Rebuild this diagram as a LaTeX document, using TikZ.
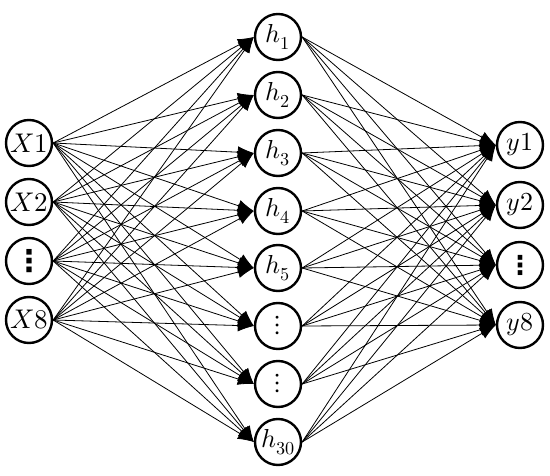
\documentclass[tikz,border=0pt]{standalone}
\usepackage{fontspec}
\usepackage{unicode-math}
\newfontfamily\dejavu{DejaVu Sans}
\usetikzlibrary{arrows.meta}
\begin{document}
\begin{tikzpicture}[x=1pt,y=-1pt,
  neuron/.style={circle,draw=black,line width=2.4pt,minimum size=46pt,inner sep=0pt,fill=white},
  inlab/.style={font=\fontsize{27}{30}\selectfont},
  hidlab/.style={font=\fontsize{26}{28}\selectfont},
  conn/.style={line width=0.8pt,-{Latex[length=16pt,width=12pt]}}]
\useasboundingbox (0,0) rectangle (550,476);
\begin{scope}[every node/.style={neuron}]
\node[inlab] (i1) at (29,143) {$X1$};
\node[inlab] (i2) at (29,202) {$X2$};
\node[inlab] (i3) at (29,261) {\dejavu\bfseries\fontsize{30}{32}\selectfont ⋮};
\node[inlab] (i4) at (29,320) {$X8$};
\node[hidlab] (h1) at (278,37) {$h_1$};
\node[hidlab] (h2) at (278,95) {$h_2$};
\node[hidlab] (h3) at (278,153) {$h_3$};
\node[hidlab] (h4) at (278,211) {$h_4$};
\node[hidlab] (h5) at (278,268) {$h_5$};
\node[hidlab] (h6) at (278,326) {\fontsize{28}{30}\selectfont$\vdots$};
\node[hidlab] (h7) at (278,384) {\fontsize{28}{30}\selectfont$\vdots$};
\node[hidlab] (h8) at (278,442) {$h_{30}$};
\node[hidlab] (o1) at (520,145) {$y1$};
\node[hidlab] (o2) at (520,205) {$y2$};
\node[hidlab] (o3) at (520,265) {\dejavu\bfseries\fontsize{26}{28}\selectfont ⋮};
\node[hidlab] (o4) at (520,325) {$y8$};
\end{scope}
\foreach \a in {1,...,4}{
  \foreach \b in {1,...,8}{
    \draw[conn] (i\a.east) -- (h\b.west);
  }
}
\foreach \b in {1,...,8}{
  \foreach \c in {1,...,4}{
    \draw[conn] (h\b.east) -- (o\c.west);
  }
}
\end{tikzpicture}
\end{document}
